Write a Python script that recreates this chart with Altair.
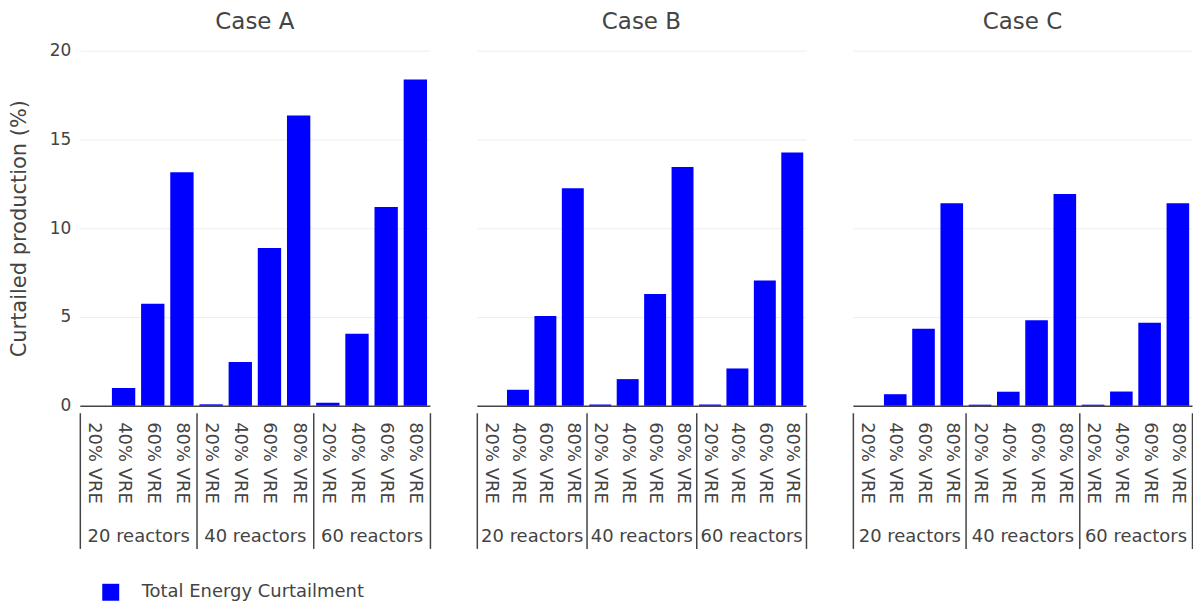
import altair as alt
import pandas as pd

cases = ["Case A", "Case B", "Case C"]
reactors = ["20 reactors", "40 reactors", "60 reactors"]
vre_levels = ["20% VRE", "40% VRE", "60% VRE", "80% VRE"]
series_name = "Total Energy Curtailment"

case_a = [0.0, 1.0, 5.75, 13.15, 0.08, 2.47, 8.88, 16.35, 0.17, 4.05, 11.2, 18.37]
case_b = [0.0, 0.9, 5.06, 12.25, 0.07, 1.5, 6.3, 13.45, 0.07, 2.1, 7.05, 14.27]
case_c = [0.0, 0.65, 4.33, 11.4, 0.06, 0.79, 4.81, 11.92, 0.06, 0.8, 4.68, 11.4]
y_ticks = [0, 5, 10, 15, 20]

FONT = "DejaVu Sans"
GREY = "#444444"
BLUE = "#0000ff"
panel_widths = [351, 330, 340]
PANEL_H = 356


def make_panel(case, values, width, first):
    rows = []
    for i, r in enumerate(reactors):
        for j, v in enumerate(vre_levels):
            rows.append({"reactors": r, "vre": v, "key": f"{r}|{v}",
                         "value": values[i * 4 + j], "series": series_name})
    df = pd.DataFrame(rows)
    base = alt.Chart(df)

    if first:
        y_axis = alt.Axis(values=y_ticks, title="Curtailed production (%)",
                          titleFontSize=21, titleColor=GREY, titleFontWeight="normal",
                          titleFont=FONT, titlePadding=20,
                          labelFontSize=17, labelColor=GREY, labelFont=FONT,
                          labelPadding=9, ticks=False, domain=False,
                          gridColor="#eeeeee", gridWidth=1)
    else:
        # hidden labels kept inside the plot so every panel has the same vertical extent
        y_axis = alt.Axis(values=y_ticks, title=None, labelOpacity=0,
                          labelFontSize=17, labelFont=FONT, labelPadding=-30,
                          ticks=False, domain=False, gridColor="#eeeeee", gridWidth=1)
    y = alt.Y("value:Q", stack=None,
              scale=alt.Scale(domain=[0, 20], nice=False, zero=True), axis=y_axis)

    x_bars = alt.X("key:N", sort=None,
                   scale=alt.Scale(paddingInner=0.2, paddingOuter=0.1),
                   axis=alt.Axis(orient="bottom", title=None, labelAngle=90,
                                 labelExpr="split(datum.label, '|')[1]",
                                 ticks=False, domainColor=GREY, domainWidth=1.5,
                                 labelFontSize=18, labelColor=GREY, labelFont=FONT,
                                 labelPadding=16, grid=False))
    if first:
        bars = base.mark_bar().encode(
            x=x_bars, y=y,
            color=alt.Color("series:N", scale=alt.Scale(range=[BLUE]),
                            legend=alt.Legend(title=None, orient="none",
                                              legendX=22, legendY=534,
                                              symbolType="square", symbolSize=289,
                                              symbolStrokeWidth=0, labelLimit=400,
                                              labelFontSize=18, labelColor=GREY,
                                              labelFont=FONT, labelOffset=22)))
    else:
        bars = base.mark_bar(color=BLUE).encode(x=x_bars, y=y)

    groups = base.mark_bar(opacity=0).encode(
        x=alt.X("reactors:N", sort=reactors,
                scale=alt.Scale(paddingInner=0, paddingOuter=0),
                axis=alt.Axis(orient="bottom", title=None, offset=7, tickBand="extent",
                              tickSize=136, tickColor=GREY, tickWidth=1.5,
                              domain=False, labelAngle=0, labelPadding=-21,
                              labelFontSize=18, labelColor=GREY, labelFont=FONT,
                              grid=False)),
        y=y)

    return alt.layer(bars, groups).resolve_scale(x="independent").properties(
        width=width, height=PANEL_H,
        title=alt.Title(case, fontSize=23, color=GREY, font=FONT, frame="group",
                        fontWeight="normal", anchor="middle", offset=8))


panels = [
    make_panel(cases[0], case_a, panel_widths[0], True),
    make_panel(cases[1], case_b, panel_widths[1], False),
    make_panel(cases[2], case_c, panel_widths[2], False),
]

chart = alt.hconcat(*panels, spacing=45).properties(
    padding={"left": 0, "top": 2, "right": 0, "bottom": 0}
).configure(font=FONT).configure_view(stroke=None)

chart.save("out.html", embed_options={"renderer": "svg", "actions": False})
